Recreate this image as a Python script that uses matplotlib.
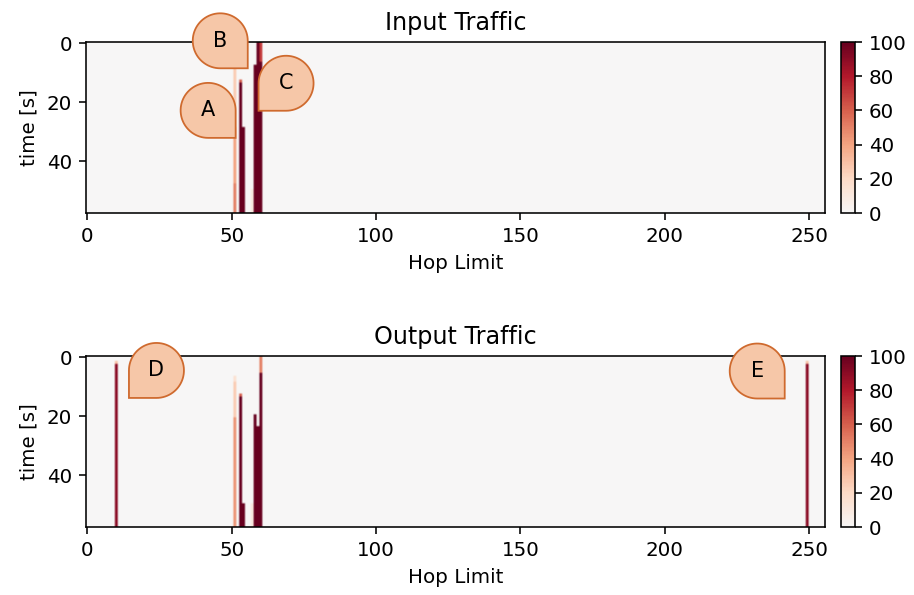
import numpy as np
import matplotlib
matplotlib.use("Agg")
import matplotlib.pyplot as plt
from matplotlib.colors import ListedColormap
from matplotlib.path import Path
from matplotlib.patches import PathPatch
from matplotlib.transforms import ScaledTranslation

# grid size: hop limit 0..255, time rows 0..57
n_hops = 256
n_rows = 58

# input traffic segments: column, first row, last row, value
in_cols = [51, 51, 51, 53, 53, 54, 57, 58, 59, 60, 60]
in_start = [8, 29, 48, 13, 14, 29, 50, 8, 0, 0, 7]
in_end = [28, 47, 57, 13, 57, 57, 57, 57, 57, 6, 57]
in_vals = [25, 40, 50, 60, 100, 100, 10, 100, 100, 70, 100]

# output traffic segments
out_cols = [10, 10, 51, 51, 51, 53, 53, 54, 57, 58, 59, 60, 60, 249, 249]
out_start = [2, 3, 7, 9, 21, 13, 14, 50, 50, 20, 24, 0, 6, 2, 3]
out_end = [2, 57, 8, 20, 57, 13, 57, 57, 57, 57, 57, 5, 57, 2, 57]
out_vals = [30, 90, 15, 25, 45, 60, 100, 100, 10, 100, 100, 50, 100, 30, 90]

# balloon labels: text, x, y (data), which corner is square
in_labels = ["A", "B", "C"]
in_lx = [41.8, 46.0, 68.8]
in_ly = [22.7, -0.9, 13.5]
in_corner = ["right", "right", "left"]

out_labels = ["D", "E"]
out_lx = [23.9, 232.0]
out_ly = [4.4, 4.6]
out_corner = ["left", "right"]


def build_grid(cols, start, end, vals):
    grid = np.zeros((n_rows, n_hops))
    for c, s, e, v in zip(cols, start, end, vals):
        grid[s:e + 1, c] = v
    return grid


def teardrop(corner, r):
    # circle with one square corner at the bottom
    if corner == "right":
        t = np.linspace(0, 1.5 * np.pi, 60)
        pts = [(r * np.cos(a), r * np.sin(a)) for a in t]
        pts += [(r, -r), (r, 0)]
    else:
        t = np.linspace(-0.5 * np.pi, np.pi, 60)
        pts = [(r * np.cos(a), r * np.sin(a)) for a in t]
        pts += [(-r, -r), (0, -r)]
    codes = [Path.MOVETO] + [Path.LINETO] * (len(pts) - 2) + [Path.CLOSEPOLY]
    return Path(pts, codes)


cmap = ListedColormap(plt.get_cmap("RdBu_r")(np.linspace(0.5, 1.0, 256)))

fig = plt.figure(figsize=(6.392, 4.161), dpi=143)
W, H = 914.0, 595.0

panels = [
    ("Input Traffic", build_grid(in_cols, in_start, in_end, in_vals), 42, in_labels, in_lx, in_ly, in_corner),
    ("Output Traffic", build_grid(out_cols, out_start, out_end, out_vals), 356, out_labels, out_lx, out_ly, out_corner),
]

for title, grid, top, labels, lx, ly, corner in panels:
    ax = fig.add_axes([86 / W, (H - top - 171) / H, 739 / W, 171 / H])
    im = ax.imshow(grid, cmap=cmap, vmin=0, vmax=100, aspect="auto",
                   extent=(-0.5, n_hops - 0.5, n_rows - 0.5, -0.5))
    ax.set_title(title)
    ax.set_xlabel("Hop Limit")
    ax.set_ylabel("time [s]")
    cax = fig.add_axes([841 / W, (H - top - 171) / H, 14 / W, 171 / H])
    cb = fig.colorbar(im, cax=cax)
    cb.set_ticks([0, 20, 40, 60, 80, 100])

    for lab, x, y, c in zip(labels, lx, ly, corner):
        tr = fig.dpi_scale_trans + ScaledTranslation(x, y, ax.transData)
        patch = PathPatch(teardrop(c, 27.5 / 143), transform=tr,
                          facecolor="#f6c7a8", edgecolor="#cf6a2e",
                          lw=0.9, clip_on=False, zorder=5)
        ax.add_patch(patch)
        ax.text(x, y, lab, ha="center", va="center", fontsize=10.5,
                zorder=6, clip_on=False)

plt.savefig("out.png", dpi=143)
